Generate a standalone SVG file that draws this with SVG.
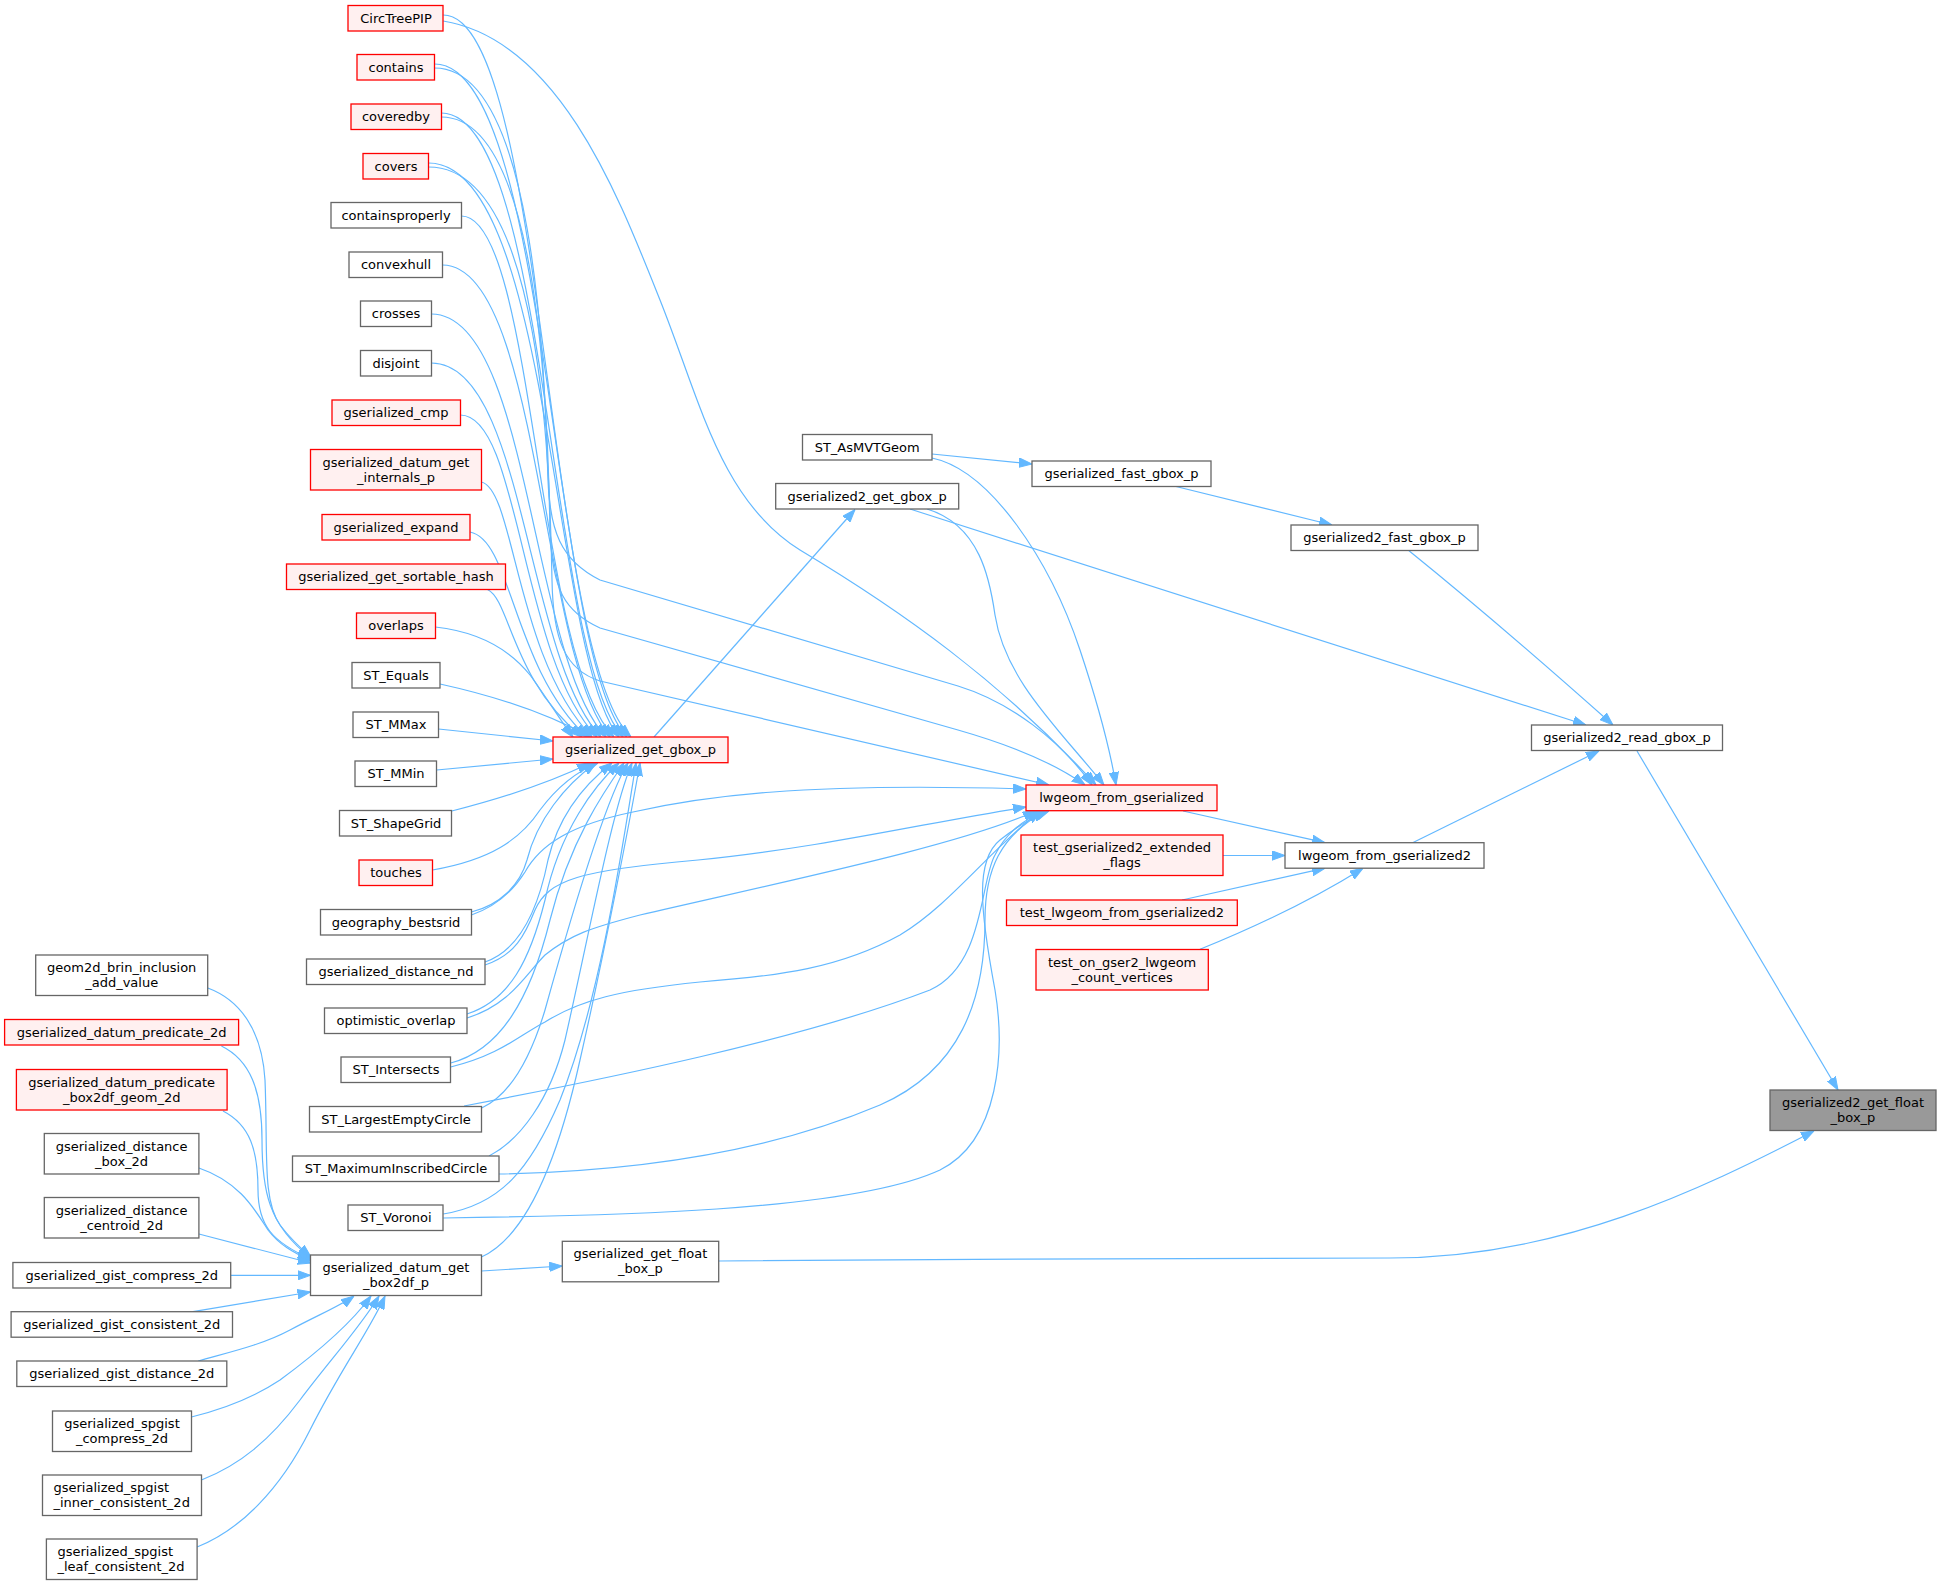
<svg xmlns="http://www.w3.org/2000/svg" width="1941" height="1585" viewBox="0 0 1941 1585">
<style>
.nd rect{stroke-width:1.3}
.r rect{fill:#fff0f0;stroke:#ff0000}
.g rect{fill:#ffffff;stroke:#666666}
.root rect{fill:#999999;stroke:#666666}
text{font-family:"DejaVu Sans","Liberation Sans",sans-serif;font-size:13px;fill:#000000;text-anchor:middle}
text.l{text-anchor:start}
#edges path{fill:none;stroke:#63b8ff;stroke-width:1.2;marker-end:url(#a)}
</style>
<defs>
<marker id="a" viewBox="0 0 13 10" refX="13" refY="5" markerWidth="13" markerHeight="10" markerUnits="userSpaceOnUse" orient="auto"><path d="M0,0.3L13,5L0,9.7z" fill="#63b8ff" stroke="#63b8ff" stroke-width="1"/></marker>
</defs>
<rect width="1941" height="1585" fill="#ffffff"/>
<g id="edges">
<path d="M443.2,15 C545,15 545,657 631,737"/>
<path d="M434.6,64 C550,64 550,657 627,737"/>
<path d="M441.4,113 C548,113 548,657 623,737"/>
<path d="M428.6,163 C552,163 552,657 619,737"/>
<path d="M461.4,216 C535,216 535,657 614,737"/>
<path d="M442.5,265 C540,265 540,657 610,737"/>
<path d="M431.4,314 C530,314 530,657 606,737"/>
<path d="M431.4,363 C525,363 525,657 601,737"/>
<path d="M460.3,415 C520,415 520,657 597,737"/>
<path d="M481.4,482 C515,490 515,657 592,737"/>
<path d="M470,532 C512,540 512,667 587,737"/>
<path d="M487.5,589.5 C510,600 512,680 582,737"/>
<path d="M435.3,627 C480,632 510,650 530,675 C545,695 560,720 573,737"/>
<path d="M440,684 C490,695 545,712 590,737"/>
<path d="M438.5,729 L553,741"/>
<path d="M436.7,770 L553,759"/>
<path d="M451.8,811 C495,800 545,785 590,763"/>
<path d="M432.5,870 C490,860 520,840 540,810 C555,790 575,772 598,763"/>
<path d="M471.4,912 C500,905 520,885 527,860 C537,820 565,785 596,763"/>
<path d="M485,962 C520,950 538,910 548,860 C560,810 590,780 612,763"/>
<path d="M467,1014 C510,1000 530,960 545,900 C560,830 595,785 619,763"/>
<path d="M450.7,1063 C500,1050 530,1000 550,920 C570,840 605,790 624,763"/>
<path d="M481.7,1108 C510,1095 530,1060 545,1010 C570,920 605,800 628,763"/>
<path d="M489,1156 C520,1140 550,1100 565,1040 C590,930 612,810 632,763"/>
<path d="M443.2,1214 C500,1205 530,1170 560,1100 C600,1000 622,850 636,763"/>
<path d="M481.4,1257 C530,1235 560,1150 580,1060 C605,950 630,820 640,763"/>
<path d="M471.4,915 C500,905 515,888 525,872 C540,845 570,825 633,812 C700,797 800,782 1026,789"/>
<path d="M485,965 C515,955 525,935 535,910 C548,880 580,870 698,860 C820,848 930,822 1026,807"/>
<path d="M467,1018 C510,1005 525,975 545,955 C570,935 590,928 640,915 C800,878 960,845 1036,811"/>
<path d="M450.7,1067 C500,1055 520,1035 545,1022 C580,1000 620,990 700,982 C780,976 840,968 900,935 C950,905 990,850 1040,811"/>
<path d="M464,1106 C600,1080 800,1040 930,990 C985,965 980,880 995,855 C1005,835 1020,822 1043,811"/>
<path d="M499,1174 C600,1172 750,1160 880,1105 C960,1070 985,1000 985,920 C985,870 1000,835 1046,811"/>
<path d="M443.2,1218 C600,1216 850,1212 940,1170 C1000,1140 1005,1050 995,990 C980,910 975,860 1000,840 C1015,828 1030,818 1049,811"/>
<path d="M207.8,988 C240,1000 262,1030 265,1080 C268,1150 262,1200 280,1225 C290,1238 298,1246 311,1257"/>
<path d="M221.4,1046 C250,1060 262,1090 262,1140 C262,1190 268,1225 311,1258"/>
<path d="M223,1111 C250,1125 258,1150 258,1190 C258,1225 272,1242 311,1259"/>
<path d="M198.9,1168 C240,1182 255,1210 268,1230 C280,1246 295,1253 311,1261"/>
<path d="M198.9,1234 L311,1263"/>
<path d="M230.7,1275.3 L310.5,1275.3"/>
<path d="M193,1311.7 L310.5,1292"/>
<path d="M198.2,1361 C230,1352 262,1345 290,1330 C318,1315 340,1306 354,1296"/>
<path d="M191.4,1417 C220,1410 250,1400 280,1380 C318,1352 350,1325 371,1296"/>
<path d="M201.4,1480 C240,1465 270,1440 300,1400 C330,1360 362,1325 379,1296"/>
<path d="M197.1,1547 C240,1530 280,1490 310,1430 C340,1370 370,1330 385,1296"/>
<path d="M481.4,1271 L562.3,1266"/>
<path d="M718.7,1261 C900,1259 1300,1258 1390,1258 C1560,1258 1700,1190 1814,1131"/>
<path d="M1637,751 L1838,1090"/>
<path d="M1412.6,842.7 L1599,751"/>
<path d="M1183,811 L1325,842.7"/>
<path d="M1223,855.5 L1285,855.5"/>
<path d="M1182,900 L1325,868.2"/>
<path d="M1200,949.3 C1260,925 1320,895 1363,868.2"/>
<path d="M1409,550.7 C1470,600 1540,660 1613,725"/>
<path d="M910,509 L1586,725"/>
<path d="M1176,486.5 L1332,525"/>
<path d="M932,454 L1032,464"/>
<path d="M932,458 C990,470 1050,560 1080,650 C1100,710 1110,750 1116,785"/>
<path d="M927,509 C980,525 990,580 995,615 C1005,680 1060,730 1104,785"/>
<path d="M654,737 L855,509.5"/>
<path d="M443.2,21 C560,40 620,200 660,300 C700,400 720,500 800,550 C900,610 1000,680 1096,785"/>
<path d="M434.6,68 C540,68 545,400 548,480 C550,530 560,560 600,580 L958,686 C1010,702 1060,740 1092,785"/>
<path d="M441.4,117 C545,117 548,450 550,530 C552,590 565,612 600,628 L958,730 C1000,742 1050,760 1085,785"/>
<path d="M428.6,167 C548,167 550,500 552,580 C553,640 565,670 600,681 L1049,785"/>
</g>
<g id="n1" class="nd r"><rect x="348" y="5.5" width="95" height="25.5"/><text x="396" y="22.8">CircTreePIP</text></g>
<g id="n2" class="nd r"><rect x="357" y="54.5" width="77.5" height="25.5"/><text x="396" y="71.8">contains</text></g>
<g id="n3" class="nd r"><rect x="351" y="104" width="90.5" height="25.5"/><text x="396" y="121.3">coveredby</text></g>
<g id="n4" class="nd r"><rect x="363" y="153.5" width="65.5" height="25.5"/><text x="396" y="170.8">covers</text></g>
<g id="n5" class="nd g"><rect x="331" y="202.5" width="130.5" height="25.5"/><text x="396" y="219.8">containsproperly</text></g>
<g id="n6" class="nd g"><rect x="349" y="252" width="93.5" height="25.5"/><text x="396" y="269.3">convexhull</text></g>
<g id="n7" class="nd g"><rect x="360.5" y="301" width="71" height="25.5"/><text x="396" y="318.3">crosses</text></g>
<g id="n8" class="nd g"><rect x="360.5" y="350.5" width="71" height="25.5"/><text x="396" y="367.8">disjoint</text></g>
<g id="n9" class="nd r"><rect x="332" y="400" width="128.5" height="25.5"/><text x="396" y="417.3">gserialized_cmp</text></g>
<g id="n10" class="nd r"><rect x="310.5" y="449.5" width="171" height="40.5"/><text x="396" y="466.5">gserialized_datum_get</text><text x="396" y="481.5">_internals_p</text></g>
<g id="n11" class="nd r"><rect x="322" y="514.5" width="148" height="25.5"/><text x="396" y="531.8">gserialized_expand</text></g>
<g id="n12" class="nd r"><rect x="286.5" y="564" width="219" height="25.5"/><text x="396" y="581.3">gserialized_get_sortable_hash</text></g>
<g id="n13" class="nd r"><rect x="356.5" y="613" width="79" height="25.5"/><text x="396" y="630.3">overlaps</text></g>
<g id="n14" class="nd g"><rect x="352" y="662.5" width="88" height="25.5"/><text x="396" y="679.8">ST_Equals</text></g>
<g id="n15" class="nd g"><rect x="353" y="712" width="85.5" height="25.5"/><text x="396" y="729.3">ST_MMax</text></g>
<g id="n16" class="nd g"><rect x="355" y="761" width="81.5" height="25.5"/><text x="396" y="778.3">ST_MMin</text></g>
<g id="n17" class="nd g"><rect x="339.5" y="810.5" width="112" height="25.5"/><text x="396" y="827.8">ST_ShapeGrid</text></g>
<g id="n18" class="nd r"><rect x="359" y="860" width="73.5" height="25.5"/><text x="396" y="877.3">touches</text></g>
<g id="n19" class="nd g"><rect x="320.5" y="909.5" width="151" height="25.5"/><text x="396" y="926.8">geography_bestsrid</text></g>
<g id="n20" class="nd g"><rect x="306.5" y="959" width="178.5" height="25.5"/><text x="396" y="976.3">gserialized_distance_nd</text></g>
<g id="n21" class="nd g"><rect x="324.5" y="1008" width="142.5" height="25.5"/><text x="396" y="1025.3">optimistic_overlap</text></g>
<g id="n22" class="nd g"><rect x="341" y="1057" width="109.5" height="25.5"/><text x="396" y="1074.3">ST_Intersects</text></g>
<g id="n23" class="nd g"><rect x="309.5" y="1106.5" width="172" height="25.5"/><text x="396" y="1123.8">ST_LargestEmptyCircle</text></g>
<g id="n24" class="nd g"><rect x="292.5" y="1156" width="206.5" height="25.5"/><text x="396" y="1173.3">ST_MaximumInscribedCircle</text></g>
<g id="n25" class="nd g"><rect x="348" y="1205" width="95" height="25.5"/><text x="396" y="1222.3">ST_Voronoi</text></g>
<g id="n26" class="nd g"><rect x="310.5" y="1255" width="171" height="40.5"/><text x="396" y="1272">gserialized_datum_get</text><text x="396" y="1287">_box2df_p</text></g>
<g id="m1" class="nd g"><rect x="35.7" y="955" width="172" height="40.5"/><text x="121.7" y="972">geom2d_brin_inclusion</text><text x="121.7" y="987">_add_value</text></g>
<g id="m2" class="nd r"><rect x="4.6" y="1019.5" width="234" height="25.5"/><text x="121.6" y="1036.8">gserialized_datum_predicate_2d</text></g>
<g id="m3" class="nd r"><rect x="16.4" y="1069.5" width="210.7" height="40.5"/><text x="121.7" y="1086.5">gserialized_datum_predicate</text><text x="121.7" y="1101.5">_box2df_geom_2d</text></g>
<g id="m4" class="nd g"><rect x="44.3" y="1133.5" width="154.6" height="40.5"/><text x="121.6" y="1150.5">gserialized_distance</text><text x="121.6" y="1165.5">_box_2d</text></g>
<g id="m5" class="nd g"><rect x="44.3" y="1197.5" width="154.6" height="40.5"/><text x="121.6" y="1214.5">gserialized_distance</text><text x="121.6" y="1229.5">_centroid_2d</text></g>
<g id="m6" class="nd g"><rect x="12.9" y="1262.5" width="217.8" height="25.5"/><text x="121.8" y="1279.8">gserialized_gist_compress_2d</text></g>
<g id="m7" class="nd g"><rect x="11.1" y="1311.7" width="221.4" height="25.5"/><text x="121.8" y="1329">gserialized_gist_consistent_2d</text></g>
<g id="m8" class="nd g"><rect x="16.8" y="1361" width="210" height="25.5"/><text x="121.8" y="1378.3">gserialized_gist_distance_2d</text></g>
<g id="m9" class="nd g"><rect x="52.5" y="1411" width="139" height="40.5"/><text x="122" y="1428">gserialized_spgist</text><text x="122" y="1443">_compress_2d</text></g>
<g id="m10" class="nd g"><rect x="42.5" y="1475" width="159" height="40.5"/><text class="l" x="53.5" y="1492">gserialized_spgist</text><text class="l" x="53.5" y="1507">_inner_consistent_2d</text></g>
<g id="m11" class="nd g"><rect x="46.4" y="1539" width="150.7" height="40.5"/><text class="l" x="57.5" y="1556">gserialized_spgist</text><text class="l" x="57.5" y="1571">_leaf_consistent_2d</text></g>
<g id="g1" class="nd r"><rect x="553" y="737" width="175" height="25.7"/><text x="640.5" y="754.3">gserialized_get_gbox_p</text></g>
<g id="g2" class="nd g"><rect x="802.5" y="434.5" width="129.5" height="25.5"/><text x="867.2" y="451.8">ST_AsMVTGeom</text></g>
<g id="g3" class="nd g"><rect x="775.7" y="483.5" width="183" height="25.5"/><text x="867.2" y="500.8">gserialized2_get_gbox_p</text></g>
<g id="g4" class="nd g"><rect x="562.3" y="1241.3" width="156.4" height="40.5"/><text x="640.5" y="1258.3">gserialized_get_float</text><text x="640.5" y="1273.3">_box_p</text></g>
<g id="g5" class="nd r"><rect x="1026" y="785" width="191" height="25.7"/><text x="1121.5" y="802.3">lwgeom_from_gserialized</text></g>
<g id="g6" class="nd r"><rect x="1021" y="835" width="202" height="40.5"/><text x="1122" y="852">test_gserialized2_extended</text><text x="1122" y="867">_flags</text></g>
<g id="g7" class="nd r"><rect x="1006.5" y="900" width="230.8" height="25.5"/><text x="1121.9" y="917.3">test_lwgeom_from_gserialized2</text></g>
<g id="g8" class="nd r"><rect x="1036" y="949.5" width="172.3" height="40.5"/><text x="1122.1" y="966.5">test_on_gser2_lwgeom</text><text x="1122.1" y="981.5">_count_vertices</text></g>
<g id="g9" class="nd g"><rect x="1032" y="461" width="179" height="25.5"/><text x="1121.5" y="478.3">gserialized_fast_gbox_p</text></g>
<g id="g10" class="nd g"><rect x="1291" y="525" width="187" height="25.5"/><text x="1384.5" y="542.3">gserialized2_fast_gbox_p</text></g>
<g id="g11" class="nd g"><rect x="1285" y="842.7" width="199" height="25.5"/><text x="1384.5" y="860">lwgeom_from_gserialized2</text></g>
<g id="g12" class="nd g"><rect x="1531.5" y="725" width="191" height="25.5"/><text x="1627" y="742.3">gserialized2_read_gbox_p</text></g>
<g id="g13" class="nd root"><rect x="1770" y="1090" width="166" height="40.5"/><text x="1853" y="1107">gserialized2_get_float</text><text x="1853" y="1122">_box_p</text></g>
</svg>
